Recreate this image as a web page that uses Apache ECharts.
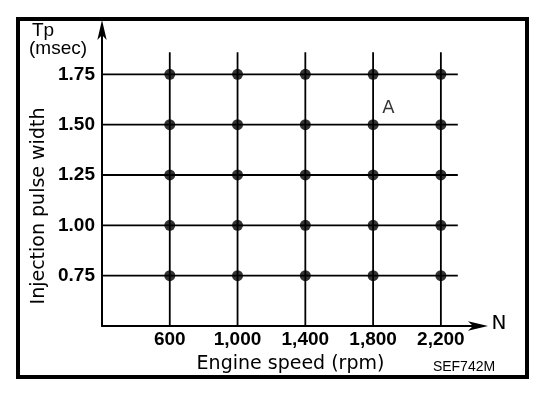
<!DOCTYPE html>
<html>
<head>
<meta charset="utf-8">
<script src="https://cdn.jsdelivr.net/npm/echarts@6/dist/echarts.min.js"></script>
<style>html,body{margin:0;padding:0;background:#fff}#c{width:560px;height:396px}</style>
</head>
<body>
<div id="c"></div>
<script>
const speeds = [600, 1000, 1400, 1800, 2200];
const pulseWidths = [0.75, 1.00, 1.25, 1.50, 1.75];
const xTickLabels = ['600', '1,000', '1,400', '1,800', '2,200'];
const yTickLabels = ['0.75', '1.00', '1.25', '1.50', '1.75'];
const gridXRange = [200, 2300];
const gridYRange = [0.5, 1.86];
const annotation = {text: 'A', x: 1890, y: 1.58};

const font = 'Liberation Sans, Arial, Helvetica, sans-serif';
const wideFont = 'DejaVu Sans, sans-serif';
const series = [];
pulseWidths.forEach(y => {
  series.push({type: 'line', data: [[gridXRange[0], y], [gridXRange[1], y]], symbol: 'none', silent: true,
    lineStyle: {color: '#000', width: 1.8}, z: 2});
});
speeds.forEach(x => {
  series.push({type: 'line', data: [[x, gridYRange[0]], [x, gridYRange[1]]], symbol: 'none', silent: true,
    lineStyle: {color: '#000', width: 1.8}, z: 2});
});
const pts = [];
speeds.forEach(x => pulseWidths.forEach(y => pts.push([x, y])));
series.push({type: 'scatter', data: pts, symbolSize: 11, itemStyle: {color: '#000'}, z: 5});
series.push({type: 'scatter', data: [[annotation.x, annotation.y]], symbolSize: 0,
  label: {show: true, formatter: annotation.text, position: 'inside', color: '#000', fontSize: 18, fontFamily: wideFont}, z: 6});

const chart = echarts.init(document.getElementById('c'));
chart.setOption({
  animation: false,
  backgroundColor: '#fff',
  grid: {left: 102, top: 29, width: 377, height: 297},
  xAxis: {
    type: 'value', min: 200, max: 2425, interval: 400,
    axisLine: {show: true, lineStyle: {color: '#000', width: 2}, symbol: ['none', 'arrow'], symbolSize: [7, 20], symbolOffset: [0, 9]},
    axisTick: {show: false}, splitLine: {show: false},
    axisLabel: {margin: 4, color: '#000', fontWeight: 'bold', fontSize: 19, fontFamily: font, showMaxLabel: false,
      formatter: v => { const i = speeds.indexOf(v); return i >= 0 ? xTickLabels[i] : ''; }},
    name: 'Engine speed (rpm)', nameLocation: 'middle', nameGap: 29,
    nameTextStyle: {color: '#000', fontSize: 19, fontFamily: wideFont}
  },
  yAxis: {
    type: 'value', min: 0.5, max: 1.975, interval: 0.25,
    axisLine: {show: true, lineStyle: {color: '#000', width: 2}, symbol: ['none', 'arrow'], symbolSize: [7, 20], symbolOffset: [0, 9]},
    axisTick: {show: false}, splitLine: {show: false},
    axisLabel: {margin: 7, color: '#000', fontWeight: 'bold', fontSize: 19, fontFamily: font, showMaxLabel: false,
      formatter: v => { const i = pulseWidths.findIndex(p => Math.abs(p - v) < 1e-6); return i >= 0 ? yTickLabels[i] : ''; }}
  },
  graphic: [
    {type: 'rect', shape: {x: 18, y: 19, width: 509, height: 358}, style: {fill: 'none', stroke: '#000', lineWidth: 4}, z: 0},
    {type: 'text', x: 39, y: 206, rotation: Math.PI / 2,
      style: {text: 'Injection pulse width', fontSize: 19, fontFamily: wideFont, fill: '#000', align: 'center', verticalAlign: 'middle'}},
    {type: 'text', left: 32, top: 21, style: {text: 'Tp', fontSize: 19, fontFamily: font, fill: '#000'}},
    {type: 'text', left: 29, top: 39, style: {text: '(msec)', fontSize: 19, fontFamily: font, fill: '#000'}},
    {type: 'text', x: 499, y: 324, style: {text: 'N', fontSize: 20, fontFamily: wideFont, fill: '#000', align: 'center', verticalAlign: 'middle'}},
    {type: 'text', x: 464, y: 367, style: {text: 'SEF742M', fontSize: 14, fontFamily: font, fill: '#000', align: 'center', verticalAlign: 'middle'}}
  ],
  series: series
});
</script>
</body>
</html>
